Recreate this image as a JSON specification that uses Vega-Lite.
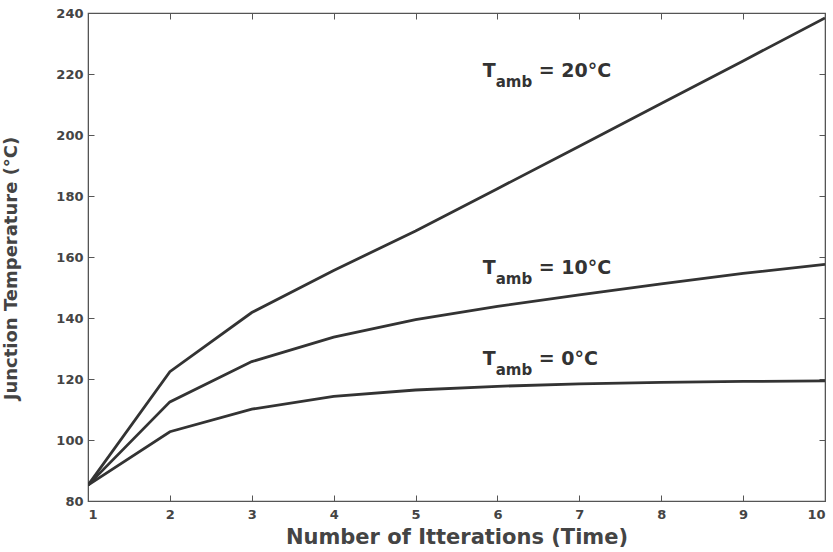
{
  "$schema": "https://vega.github.io/schema/vega-lite/v6.json",
  "width": 737,
  "height": 488,
  "autosize": {"type": "none"},
  "padding": {"left": 88, "top": 13, "right": 8, "bottom": 51},
  "background": "white",
  "config": {
    "view": {"stroke": "#555", "strokeWidth": 1.2},
    "font": "DejaVu Sans",
    "axis": {
      "grid": false,
      "domainColor": "#555",
      "tickColor": "#555",
      "labelFont": "DejaVu Sans",
      "labelFontWeight": "bold",
      "labelFontSize": 13,
      "labelColor": "#444",
      "titleFont": "DejaVu Sans",
      "titleFontWeight": "bold",
      "titleFontSize": 18,
      "titleColor": "#444"
    }
  },
  "datasets": {
    "lines": [
      {"series": "0", "iter": 1, "temp": 85.2},
      {"series": "0", "iter": 2, "temp": 102.7},
      {"series": "0", "iter": 3, "temp": 110.1},
      {"series": "0", "iter": 4, "temp": 114.3},
      {"series": "0", "iter": 5, "temp": 116.4},
      {"series": "0", "iter": 6, "temp": 117.6},
      {"series": "0", "iter": 7, "temp": 118.4},
      {"series": "0", "iter": 8, "temp": 118.9},
      {"series": "0", "iter": 9, "temp": 119.2},
      {"series": "0", "iter": 10, "temp": 119.4},
      {"series": "10", "iter": 1, "temp": 85.2},
      {"series": "10", "iter": 2, "temp": 112.5},
      {"series": "10", "iter": 3, "temp": 125.7},
      {"series": "10", "iter": 4, "temp": 133.7},
      {"series": "10", "iter": 5, "temp": 139.5},
      {"series": "10", "iter": 6, "temp": 143.8},
      {"series": "10", "iter": 7, "temp": 147.6},
      {"series": "10", "iter": 8, "temp": 151.2},
      {"series": "10", "iter": 9, "temp": 154.6},
      {"series": "10", "iter": 10, "temp": 157.6},
      {"series": "20", "iter": 1, "temp": 85.2},
      {"series": "20", "iter": 2, "temp": 122.4},
      {"series": "20", "iter": 3, "temp": 141.8},
      {"series": "20", "iter": 4, "temp": 155.6},
      {"series": "20", "iter": 5, "temp": 168.5},
      {"series": "20", "iter": 6, "temp": 182.4},
      {"series": "20", "iter": 7, "temp": 196.3},
      {"series": "20", "iter": 8, "temp": 210.3},
      {"series": "20", "iter": 9, "temp": 224.3},
      {"series": "20", "iter": 10, "temp": 238.4}
    ],
    "labels": [
      {"iter": 5.82, "temp": 219.0, "rest": "= 20°C"},
      {"iter": 5.82, "temp": 154.4, "rest": "= 10°C"},
      {"iter": 5.82, "temp": 124.6, "rest": "= 0°C"}
    ]
  },
  "layer": [
    {
      "data": {"name": "lines"},
      "mark": {"type": "line", "color": "#333", "strokeWidth": 2.8, "strokeJoin": "miter", "clip": true},
      "encoding": {
        "x": {"field": "iter", "type": "quantitative", "scale": {"domain": [1, 10], "nice": false, "zero": false}, "axis": {"orient": "bottom", "values": [1,2,3,4,5,6,7,8,9,10], "tickSize": -6, "labelPadding": 13, "domain": true, "title": "Number of Itterations (Time)", "titlePadding": 5, "titleFontSize": 21}},
        "y": {"field": "temp", "type": "quantitative", "scale": {"domain": [80, 240], "nice": false, "zero": false}, "axis": {"orient": "left", "values": [80,100,120,140,160,180,200,220,240], "tickSize": -6, "labelPadding": 11, "title": "Junction Temperature (°C)", "titleFontSize": 18, "titleX": -68, "titleY": 255}},
        "detail": {"field": "series"}
      }
    },
    {
      "data": {"name": "lines"},
      "mark": {"type": "line", "opacity": 0},
      "encoding": {
        "x": {"field": "iter", "type": "quantitative", "axis": {"orient": "top", "values": [1,2,3,4,5,6,7,8,9,10], "tickSize": -6, "labels": false, "title": null}},
        "y": {"field": "temp", "type": "quantitative", "axis": {"orient": "right", "values": [80,100,120,140,160,180,200,220,240], "tickSize": -6, "labels": false, "title": null}},
        "detail": {"field": "series"}
      }
    },
    {
      "data": {"name": "labels"},
      "mark": {"type": "text", "align": "left", "baseline": "alphabetic", "fontSize": 19, "fontWeight": "bold", "color": "#333", "font": "DejaVu Sans"},
      "encoding": {
        "x": {"field": "iter", "type": "quantitative", "axis": null},
        "y": {"field": "temp", "type": "quantitative", "axis": null},
        "text": {"value": "T"}
      }
    },
    {
      "data": {"name": "labels"},
      "mark": {"type": "text", "align": "left", "baseline": "alphabetic", "fontSize": 15, "fontWeight": "bold", "color": "#333", "font": "DejaVu Sans", "dx": 13, "dy": 10},
      "encoding": {
        "x": {"field": "iter", "type": "quantitative", "axis": null},
        "y": {"field": "temp", "type": "quantitative", "axis": null},
        "text": {"value": "amb"}
      }
    },
    {
      "data": {"name": "labels"},
      "mark": {"type": "text", "align": "left", "baseline": "alphabetic", "fontSize": 19, "fontWeight": "bold", "color": "#333", "font": "DejaVu Sans", "dx": 56},
      "encoding": {
        "x": {"field": "iter", "type": "quantitative", "axis": null},
        "y": {"field": "temp", "type": "quantitative", "axis": null},
        "text": {"field": "rest"}
      }
    }
  ],
  "resolve": {"axis": {"x": "independent", "y": "independent"}}
}
